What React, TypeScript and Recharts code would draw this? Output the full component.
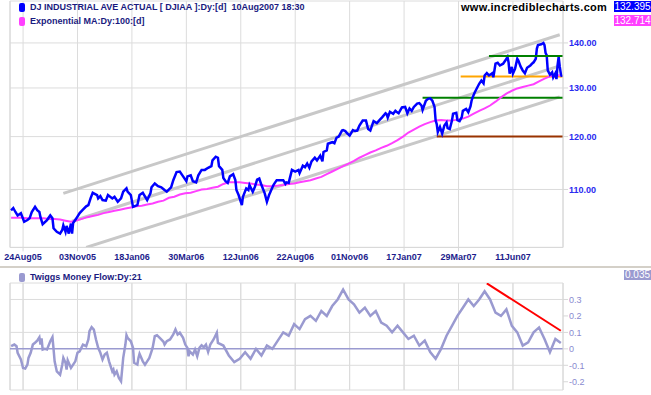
import React from 'react'
import { LineChart, Line, XAxis, YAxis, CartesianGrid, ReferenceLine } from 'recharts'

// x values are trading-day numbers (day 0 = 29Jul05)
const tickDays = [11, 61, 111, 161, 211, 261, 311, 361, 411, 461]
const tickLabels = ['24Aug05', '03Nov05', '18Jan06', '30Mar06', '12Jun06', '22Aug06', '01Nov06', '17Jan07', '29Mar07', '11Jun07']

// DJIA daily closes (thousands), [day, value]
const djia = [
  [0, 106.3], [2, 106.7], [4, 106.0], [6, 105.4], [9, 105.8], [12, 104.3], [15, 104.6], [17, 104.9], [19, 106.0], [22, 106.9],
  [24, 106.3], [26, 106.0], [27, 105.1], [29, 103.9], [33, 104.6], [36, 105.4], [38, 104.9], [39, 103.2], [42, 102.6], [45, 102.3],
  [47, 102.9], [48, 103.7], [50, 102.6], [51, 103.6], [53, 102.3], [55, 104.0], [56, 102.3], [57, 104.1], [60, 104.9], [63, 105.8],
  [66, 106.4], [69, 107.0], [71, 107.2], [73, 108.4], [75, 109.4], [79, 109.0], [80, 108.4], [82, 108.8], [84, 108.1], [87, 108.0],
  [89, 109.0], [93, 108.4], [95, 108.7], [98, 107.8], [101, 108.4], [103, 109.6], [106, 110.2], [107, 109.6], [110, 109.0], [112, 106.9],
  [116, 107.2], [118, 109.0], [121, 109.4], [125, 108.1], [128, 109.3], [129, 110.4], [132, 111.1], [135, 110.6], [138, 110.4], [141, 109.9],
  [143, 109.6], [147, 110.4], [149, 111.7], [152, 113.2], [155, 113.3], [158, 112.4], [161, 111.5], [162, 112.4], [165, 112.6], [167, 111.5],
  [170, 111.3], [172, 112.6], [175, 113.6], [178, 113.6], [181, 114.0], [184, 114.3], [185, 115.4], [188, 116.1], [190, 115.9], [191, 114.3],
  [194, 113.6], [195, 112.1], [197, 111.5], [199, 111.2], [201, 112.4], [204, 112.8], [206, 111.7], [207, 109.9], [209, 109.0], [212, 107.2],
  [213, 108.7], [216, 110.2], [218, 109.9], [219, 110.8], [222, 109.6], [224, 110.5], [226, 111.8], [228, 112.0], [230, 110.8], [233, 109.3],
  [235, 107.8], [237, 109.0], [239, 109.9], [241, 110.8], [242, 111.1], [244, 111.7], [247, 111.7], [250, 111.7], [252, 111.0], [253, 111.3],
  [255, 111.2], [258, 113.6], [261, 113.3], [264, 113.6], [265, 113.0], [268, 114.4], [270, 114.1], [272, 114.8], [274, 114.0], [276, 115.2],
  [279, 115.9], [281, 115.4], [284, 116.3], [286, 115.2], [287, 117.0], [290, 117.3], [291, 118.6], [295, 118.9], [297, 118.7], [299, 119.8],
  [301, 120.0], [304, 121.2], [305, 121.3], [307, 121.1], [309, 120.6], [311, 120.2], [314, 121.3], [316, 121.1], [318, 121.2], [320, 122.2],
  [323, 123.2], [326, 123.2], [328, 121.5], [330, 121.2], [332, 122.5], [333, 123.1], [336, 122.7], [338, 123.2], [341, 123.9], [344, 124.7],
  [345, 124.5], [346, 123.8], [348, 125.0], [351, 124.6], [353, 125.2], [354, 125.0], [356, 124.7], [359, 125.9], [362, 126.0], [364, 124.7],
  [366, 125.7], [368, 125.2], [370, 126.0], [373, 126.7], [375, 126.8], [377, 126.3], [378, 125.4], [381, 127.3], [383, 127.7], [385, 127.8],
  [387, 127.3], [389, 126.0], [390, 123.2], [391, 122.5], [392, 120.9], [394, 121.9], [396, 120.6], [398, 122.2], [400, 122.8], [401, 121.7],
  [403, 121.5], [405, 123.2], [406, 124.6], [409, 124.8], [410, 123.3], [412, 123.1], [414, 123.9], [415, 125.2], [418, 125.6], [420, 124.9],
  [422, 126.1], [423, 127.3], [424, 128.0], [426, 129.1], [428, 130.0], [430, 130.9], [432, 131.6], [434, 131.0], [435, 132.7], [437, 133.2],
  [439, 132.7], [442, 133.2], [443, 132.3], [445, 135.3], [447, 135.5], [449, 134.9], [452, 135.3], [454, 136.0], [456, 136.8], [457, 135.6],
  [458, 133.1], [460, 134.6], [461, 133.1], [463, 134.2], [465, 136.4], [466, 136.0], [468, 134.7], [470, 133.8], [472, 133.2], [474, 134.4],
  [477, 134.9], [479, 135.4], [480, 135.6], [482, 136.4], [483, 138.7], [484, 139.5], [487, 139.7], [489, 140.0], [490, 139.5], [491, 137.7],
  [492, 137.2], [493, 133.8], [495, 132.9], [497, 133.4], [498, 132.3], [500, 133.2], [501, 131.9], [502, 134.9], [503, 136.8], [504, 134.7],
  [505, 133.1], [506, 132.4],
]

// 100-day exponential MA, sampled weekly
const emaDays = [
  0, 5, 10, 15, 20, 25, 30, 35, 40, 45, 50, 55, 60, 65, 70, 75, 80, 85, 90, 95,
  100, 105, 110, 115, 120, 125, 130, 135, 140, 145, 150, 155, 160, 165, 170, 175, 180, 185, 190, 195,
  200, 205, 210, 215, 220, 225, 230, 235, 240, 245, 250, 255, 260, 265, 270, 275, 280, 285, 290, 295,
  300, 305, 310, 315, 320, 325, 330, 335, 340, 345, 350, 355, 360, 365, 370, 375, 380, 385, 390, 395,
  400, 405, 410, 415, 420, 425, 430, 435, 440, 445, 450, 455, 460, 465, 470, 475, 480, 485, 490, 495,
  500, 505,
]
const ema100 = [
  105.0, 105.0, 105.0, 104.9, 104.9, 104.9, 104.9, 104.8, 104.8, 104.7,
  104.5, 104.3, 104.5, 104.8, 105.1, 105.3, 105.5, 105.8, 106.0, 106.2,
  106.4, 106.6, 106.8, 107.0, 107.1, 107.3, 107.5, 107.8, 108.0, 108.5,
  108.7, 109.1, 109.3, 109.4, 109.7, 110.0, 110.1, 110.3, 110.5, 111.0,
  111.3, 111.3, 111.3, 111.2, 111.1, 110.9, 110.8, 110.6, 110.6, 110.7,
  110.8, 111.0, 111.1, 111.3, 111.5, 111.7, 112.0, 112.3, 112.8, 113.3,
  113.8, 114.3, 114.8, 115.3, 115.9, 116.4, 116.9, 117.3, 117.8, 118.2,
  118.7, 119.3, 120.0, 120.8, 121.4, 122.0, 122.5, 122.9, 123.2, 123.3,
  123.2, 123.2, 123.4, 123.6, 124.0, 124.6, 125.2, 125.7, 126.3, 127.1,
  128.0, 128.8, 129.4, 129.9, 130.2, 130.5, 130.8, 131.4, 132.0, 132.5,
  132.8, 132.7,
]

// Twiggs Money Flow (21), [day, value]
const moneyFlow = [
  [0, 0.016], [3, 0.026], [5, 0.016], [6, -0.024], [9, -0.065], [11, -0.116], [13, -0.12], [15, -0.096], [16, -0.055], [18, -0.024],
  [20, 0.026], [22, 0.037], [24, 0.05], [26, 0.071], [27, 0.026], [28, 0.063], [29, -0.004], [31, 0.0], [33, -0.004], [36, 0.046],
  [38, 0.071], [39, 0.0], [40, -0.076], [42, -0.137], [45, -0.157], [47, -0.096], [48, -0.055], [50, -0.085], [51, -0.126], [52, -0.07],
  [55, -0.116], [57, -0.096], [59, -0.076], [61, -0.024], [63, -0.015], [66, 0.026], [69, 0.016], [71, 0.057], [72, 0.107], [74, 0.132],
  [76, 0.117], [78, 0.057], [80, 0.006], [82, -0.024], [84, -0.065], [86, -0.035], [88, -0.024], [90, -0.076], [93, -0.137], [94, -0.126],
  [95, -0.157], [97, -0.137], [99, -0.177], [101, -0.197], [103, -0.055], [105, 0.026], [106, 0.083], [107, 0.067], [110, 0.046], [112, 0.006],
  [113, -0.085], [116, -0.096], [117, -0.055], [118, -0.03], [121, -0.076], [123, -0.096], [125, -0.076], [127, -0.055], [129, -0.015], [130, 0.006],
  [132, 0.077], [134, 0.083], [137, 0.063], [140, 0.043], [141, 0.026], [143, 0.046], [146, 0.057], [149, 0.087], [151, 0.118], [153, 0.087],
  [155, 0.098], [158, 0.067], [160, 0.026], [162, 0.006], [163, -0.045], [164, -0.015], [167, -0.035], [169, -0.004], [171, -0.045], [173, 0.006],
  [175, 0.022], [177, 0.01], [179, 0.026], [181, -0.018], [183, 0.026], [186, 0.057], [189, 0.098], [190, 0.036], [195, 0.02], [200, -0.04],
  [205, -0.08], [210, -0.06], [215, -0.02], [220, -0.06], [225, 0.0], [230, -0.04], [235, 0.02], [240, 0.0], [245, 0.05], [250, 0.1],
  [255, 0.08], [260, 0.15], [265, 0.12], [270, 0.18], [275, 0.2], [280, 0.17], [285, 0.23], [290, 0.2], [295, 0.26], [300, 0.3],
  [305, 0.36], [310, 0.3], [315, 0.27], [320, 0.22], [325, 0.25], [330, 0.2], [335, 0.23], [340, 0.16], [345, 0.14], [350, 0.1],
  [355, 0.14], [360, 0.1], [365, 0.06], [370, 0.08], [375, 0.02], [380, 0.05], [385, -0.02], [390, -0.06], [395, 0.0], [400, 0.08],
  [405, 0.14], [410, 0.2], [415, 0.25], [420, 0.3], [425, 0.26], [430, 0.3], [435, 0.35], [440, 0.3], [445, 0.22], [450, 0.2],
  [455, 0.24], [460, 0.14], [465, 0.1], [470, 0.02], [475, 0.04], [480, 0.1], [485, 0.13], [490, 0.06], [495, -0.02], [500, 0.06],
  [505, 0.035],
]

// trend channel end points [day, value]
const upperChannel = [[48, 109.3], [504, 141.9]]
const middleChannel = [[56, 104.4], [504, 134.8]]
const lowerChannel = [[69, 100.0], [504, 128.1]]

// horizontal levels [fromDay, value]
const resistance = [439, 137.0]
const support1 = [413, 132.5]
const support2 = [378, 127.9]
const support3 = [391, 120.0]
const firstDay = -1
const lastDay = 507

const mfTrend = [[437, 0.398], [505, 0.11]]
const mfDomain = [-0.25, 0.4]

const priceRows = djia.map(([day, value]) => ({ day, value }))
const emaRows = emaDays.map((day, i) => ({ day, value: ema100[i] }))
const mfRows = moneyFlow.map(([day, value]) => ({ day, value }))

const FONT = '"Liberation Sans", Arial, sans-serif'
const GRID = '#dcdcdc'
const MF_COLOR = '#9a9ad0'

const seg = (p: number[][]) => [{ x: p[0][0], y: p[0][1] }, { x: p[1][0], y: p[1][1] }]
const level = (l: number[]) => [{ x: l[0], y: l[1] }, { x: lastDay, y: l[1] }]
const mfVertical = (d: number) => [{ x: d, y: mfDomain[0] }, { x: d, y: mfDomain[1] }]

function Marker({ color, top }: { color: string; top: number }) {
  return (
    <div style={{ position: 'absolute', left: 19, top, width: 6, height: 9, borderRadius: 2, background: color }} />
  )
}

function Badge({ text, color, top, left, height = 11 }: { text: string; color: string; top: number; left: number; height?: number }) {
  return (
    <div style={{
      position: 'absolute', left, top, width: 651 - left, height, background: color, color: '#fff',
      fontSize: 10, lineHeight: `${height}px`, textAlign: 'center', fontFamily: FONT,
    }}>{text}</div>
  )
}

const labelStyle: React.CSSProperties = {
  position: 'absolute', left: 30, fontSize: 9, fontWeight: 'bold', color: '#1a1a80',
  fontFamily: FONT, whiteSpace: 'pre', lineHeight: '11px',
}

export default function App() {
  return (
    <div style={{ position: 'absolute', left: 0, top: 0, width: 651, height: 395, background: '#fff', fontFamily: FONT }}>
      <div style={{ position: 'absolute', left: 0, top: 0, width: 651, height: 270 }}>
        <LineChart id="djia-panel" width={651} height={270} margin={{ top: 1, right: 0, bottom: 2.6, left: 10 }}>
          <CartesianGrid stroke={GRID} />
          <XAxis
            type="number"
            dataKey="day"
            domain={[firstDay, lastDay]}
            ticks={tickDays}
            interval={0}
            allowDataOverflow
            tickFormatter={(d: number) => tickLabels[tickDays.indexOf(d)]}
            height={20}
            tickSize={4}
            tickMargin={2}
            axisLine={{ stroke: '#d8d8d8' }}
            tickLine={{ stroke: '#d8d8d8' }}
            tick={{ fontSize: 9, fontWeight: 'bold', fill: '#1c1c8c', fontFamily: FONT }}
          />
          <YAxis
            orientation="right"
            type="number"
            scale="log"
            domain={[100, 150]}
            allowDataOverflow
            ticks={[110, 120, 130, 140]}
            tickFormatter={(v: number) => v.toFixed(2)}
            width={88}
            tickSize={5}
            tickMargin={1}
            axisLine={{ stroke: '#d8d8d8' }}
            tickLine={{ stroke: '#d8d8d8' }}
            tick={{ fontSize: 9, fontWeight: 'bold', fill: '#2a2af0', fontFamily: FONT }}
          />
          <ReferenceLine x={firstDay} stroke="#d8d8d8" />
          <ReferenceLine segment={seg(upperChannel)} stroke="#c8c8c8" strokeWidth={3} ifOverflow="hidden" />
          <ReferenceLine segment={seg(middleChannel)} stroke="#c8c8c8" strokeWidth={3} ifOverflow="hidden" />
          <ReferenceLine segment={seg(lowerChannel)} stroke="#c8c8c8" strokeWidth={3} ifOverflow="hidden" />
          <ReferenceLine segment={level(support3)} stroke="#993300" strokeWidth={2} ifOverflow="hidden" />
          <ReferenceLine segment={level(support2)} stroke="#008000" strokeWidth={2} ifOverflow="hidden" />
          <ReferenceLine segment={level(support1)} stroke="#ffa500" strokeWidth={2} ifOverflow="hidden" />
          <Line data={emaRows} dataKey="value" stroke="#ff40ff" strokeWidth={2} dot={false} isAnimationActive={false} />
          <Line data={priceRows} dataKey="value" stroke="#0000ff" strokeWidth={2.5} dot={false} isAnimationActive={false} />
          <ReferenceLine segment={level(resistance)} stroke="#008000" strokeWidth={2} ifOverflow="hidden" />
        </LineChart>
      </div>

      <div style={{ position: 'absolute', left: 0, top: 266, width: 651, height: 2, background: '#d4d0c8' }} />

      <div style={{ position: 'absolute', left: 0, top: 270, width: 651, height: 122, zIndex: 1 }}>
        <LineChart id="flow-panel" width={651} height={122} margin={{ top: 13, right: 0, bottom: 2, left: 10 }}>
          <CartesianGrid stroke={GRID} />
          <XAxis type="number" dataKey="day" domain={[firstDay, lastDay]} ticks={tickDays} allowDataOverflow hide />
          <YAxis
            orientation="right"
            type="number"
            domain={mfDomain}
            allowDataOverflow
            ticks={[-0.2, -0.1, 0, 0.1, 0.2, 0.3]}
            width={88}
            tickSize={5}
            tickMargin={1}
            axisLine={{ stroke: '#d8d8d8' }}
            tickLine={{ stroke: '#d8d8d8' }}
            tick={{ fontSize: 9, fill: '#8a8ad0', fontFamily: FONT }}
          />
          <ReferenceLine segment={mfVertical(firstDay)} stroke="#d8d8d8" ifOverflow="visible" />
          {tickDays.map((d) => (
            <ReferenceLine key={`v${d}`} segment={mfVertical(d)} stroke={GRID} ifOverflow="visible" />
          ))}
          <ReferenceLine y={0} stroke={MF_COLOR} strokeWidth={1.5} />
          <Line data={mfRows} dataKey="value" stroke={MF_COLOR} strokeWidth={2.5} dot={false} isAnimationActive={false} />
          <ReferenceLine segment={seg(mfTrend)} stroke="#ff0000" strokeWidth={2} ifOverflow="hidden" />
        </LineChart>
      </div>

      <Marker color="#0000ff" top={3} />
      <div style={{ ...labelStyle, top: 2 }}>{'DJ INDUSTRIAL AVE ACTUAL [ DJIAA ]:Dy:[d]  10Aug2007 18:30'}</div>
      <Marker color="#ff40ff" top={17} />
      <div style={{ ...labelStyle, top: 16 }}>{'Exponential MA:Dy:100:[d]'}</div>

      <div style={{
        position: 'absolute', left: 461, top: 0, fontSize: 11, fontWeight: 'bold', letterSpacing: 0.3,
        color: '#000', fontFamily: FONT, lineHeight: '15px',
      }}>www.incrediblecharts.com</div>
      <Badge text="132.395" color="#0000ff" top={1} left={614} />
      <Badge text="132.714" color="#ff40ff" top={15} left={614} />

      <div style={{ position: 'absolute', left: 0, top: 270, zIndex: 2 }}>
        <Marker color={MF_COLOR} top={3} />
        <div style={{ ...labelStyle, top: 2 }}>{'Twiggs Money Flow:Dy:21'}</div>
      </div>
      <div style={{ position: 'absolute', left: 0, top: 0, zIndex: 2 }}>
        <Badge text="0.035" color={MF_COLOR} top={270} left={624} height={10} />
      </div>
    </div>
  )
}
